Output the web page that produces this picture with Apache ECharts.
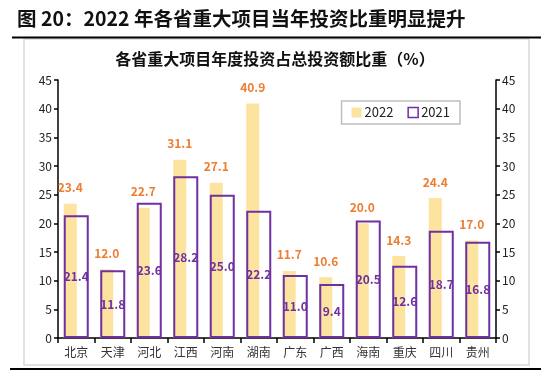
<!DOCTYPE html>
<html>
<head>
<meta charset="utf-8">
<script src="https://cdn.jsdelivr.net/npm/echarts@6/dist/echarts.min.js"></script>
<style>
html, body { margin: 0; padding: 0; background: #fff; }
#chart { width: 550px; height: 375px; }
</style>
</head>
<body>
<div id="chart"></div>
<script>
// 省份（后三个被水印遮挡，按推测填写）
var provinces = ['北京', '天津', '河北', '江西', '河南', '湖南', '广东', '广西', '海南', '重庆', '四川', '贵州'];
var data_2022 = [23.4, 12.0, 22.7, 31.1, 27.1, 40.9, 11.7, 10.6, 20.0, 14.3, 24.4, 17.0];
var data_2021 = [21.4, 11.8, 23.6, 28.2, 25.0, 22.2, 11.0, 9.4, 20.5, 12.6, 18.7, 16.8];

var font = '"Noto Sans CJK SC", "Noto Sans", sans-serif';
var purple = '#7030A0';
var orange = '#ED7D31';
var yellow = '#FCE3A0';

var axis_common = {
    type: 'value',
    min: 0,
    max: 45,
    interval: 5,
    axisLine: { show: true, lineStyle: { color: '#000', width: 1.5 } },
    axisTick: { show: true, length: 4, lineStyle: { color: '#000', width: 1.5 } },
    splitLine: { show: false },
    axisLabel: { color: '#222', fontSize: 12, fontFamily: font, margin: 6 }
};

var option = {
    backgroundColor: '#fff',
    animation: false,
    title: [{
        text: '图 20：2022 年各省重大项目当年投资比重明显提升',
        left: 12,
        top: 4,
        textStyle: { fontSize: 19.5, fontWeight: 'bold', color: '#111', fontFamily: font }
    }, {
        text: '各省重大项目年度投资占总投资额比重（%）',
        left: 'center',
        top: 46,
        textStyle: { fontSize: 16, fontWeight: 'bold', color: '#111', fontFamily: font }
    }],
    graphic: [
        { type: 'rect', shape: { x: 24, y: 39, width: 505, height: 326 }, style: { fill: 'none', stroke: '#d9d9d9', lineWidth: 1.5 }, z: -1 },
        { type: 'line', shape: { x1: 12, y1: 37.5, x2: 541, y2: 37.5 }, style: { stroke: '#000', lineWidth: 2 } },
        { type: 'line', shape: { x1: 10, y1: 369, x2: 541, y2: 369 }, style: { stroke: '#000', lineWidth: 2 } }
    ],
    legend: {
        data: [
            { name: '2022', icon: 'rect' },
            { name: '2021', icon: 'rect', itemStyle: { color: '#fff', borderColor: purple, borderWidth: 1.5 } }
        ],
        right: 90,
        top: 101,
        itemWidth: 10,
        itemHeight: 10,
        itemGap: 14,
        padding: [5, 10, 5, 10],
        borderColor: '#bfbfbf',
        borderWidth: 1.5,
        textStyle: { fontSize: 13, color: '#222', fontFamily: font, padding: [0, 0, 0, -2] }
    },
    grid: {
        left: 58,
        right: 54,
        top: 80,
        bottom: 37
    },
    xAxis: {
        type: 'category',
        data: provinces,
        axisLine: { lineStyle: { color: '#000', width: 1.5 } },
        axisTick: { show: true, length: 5, lineStyle: { color: '#000', width: 1.5 } },
        axisLabel: { color: '#333', fontSize: 12, fontFamily: font, margin: 8 }
    },
    yAxis: [
        Object.assign({}, axis_common, { position: 'left' }),
        Object.assign({}, axis_common, { position: 'right' })
    ],
    series: [
        {
            name: '2022',
            type: 'bar',
            data: data_2022,
            barWidth: 13,
            itemStyle: { color: yellow },
            label: {
                show: true,
                position: 'top',
                distance: 10,
                formatter: function (p) { return p.value.toFixed(1); },
                color: orange,
                fontWeight: 'bold',
                fontSize: 12,
                fontFamily: font
            },
            z: 1
        },
        {
            name: '2021',
            type: 'bar',
            data: data_2021,
            barWidth: 25,
            barGap: '-100%',
            itemStyle: { color: 'rgba(255,255,255,0)', borderColor: purple, borderWidth: 2 },
            label: {
                show: true,
                position: 'inside',
                formatter: function (p) { return p.value.toFixed(1); },
                color: purple,
                fontWeight: 'bold',
                fontSize: 12,
                fontFamily: font
            },
            z: 2
        }
    ]
};

var chart = echarts.init(document.getElementById('chart'));
chart.setOption(option);
</script>
</body>
</html>
